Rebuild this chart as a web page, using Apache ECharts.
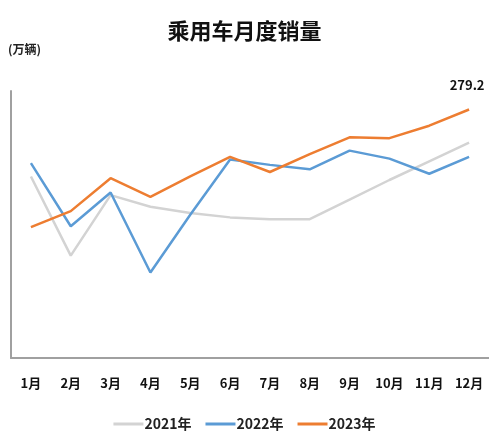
<!DOCTYPE html>
<html>
<head>
<meta charset="utf-8">
<script src="https://cdn.jsdelivr.net/npm/echarts@6/dist/echarts.min.js"></script>
<style>html,body{margin:0;padding:0;background:#fff;}#c{width:489px;height:439px;}</style>
</head>
<body>
<div id="c"></div>
<script>
const months = ['1月','2月','3月','4月','5月','6月','7月','8月','9月','10月','11月','12月'];
const seriesNames = ['2021年','2022年','2023年'];
const sales2021 = [204, 115, 183, 170, 163, 158, 156, 156, 178, 200, 221, 242];
const sales2022 = [219, 148, 186, 96, 161, 223, 217, 212, 233, 224, 207, 226];
const sales2023 = [147, 165, 202, 181, 204, 226, 209, 229, 248, 247, 261, 279.2];
const colors = ['#d3d3d3', '#5b9bd5', '#ed7d31'];

const chart = echarts.init(document.getElementById('c'), null, {renderer: 'canvas'});
const font = '"Noto Sans CJK SC", "Noto Sans", sans-serif';
const lastLabel = function (p) { return p.dataIndex === months.length - 1 ? String(p.value) : ''; };

chart.setOption({
  animation: false,
  backgroundColor: '#fff',
  title: {
    text: '乘用车月度销量',
    left: 'center', top: 15,
    textStyle: {fontFamily: font, fontSize: 22, fontWeight: 'bold', color: '#111'}
  },
  graphic: [{
    type: 'text', left: 8, top: 43,
    style: {text: '(万辆)', fontFamily: font, fontSize: 12, fontWeight: 'bold', fill: '#222'}
  }],
  legend: {
    bottom: 3, left: 'center',
    itemWidth: 30, itemHeight: 3, itemGap: 14,
    icon: 'rect',
    textStyle: {fontFamily: font, fontSize: 14, fontWeight: 'bold', color: '#222', padding: [0,0,0,-4]},
    data: seriesNames
  },
  grid: {left: 11, right: -2, top: 91, bottom: 81, containLabel: false},
  xAxis: {
    type: 'category', data: months, boundaryGap: true,
    axisLine: {show: true, lineStyle: {color: '#a0a0a0', width: 2}},
    axisTick: {show: false},
    axisLabel: {margin: 19, fontFamily: font, fontSize: 13, fontWeight: 'bold', color: '#111'}
  },
  yAxis: {
    type: 'value', min: 0, max: 300,
    axisLine: {show: true, lineStyle: {color: '#a0a0a0', width: 2}},
    axisTick: {show: false}, axisLabel: {show: false}, splitLine: {show: false}
  },
  series: [
    {name: seriesNames[0], type: 'line', data: sales2021, symbol: 'none', lineStyle: {width: 2.5, color: colors[0]}, itemStyle: {color: colors[0]}},
    {name: seriesNames[1], type: 'line', data: sales2022, symbol: 'none', lineStyle: {width: 2.5, color: colors[1]}, itemStyle: {color: colors[1]}},
    {name: seriesNames[2], type: 'line', data: sales2023, symbol: 'circle', symbolSize: 0.1, showSymbol: true,
      lineStyle: {width: 2.5, color: colors[2]}, itemStyle: {color: colors[2]},
      label: {show: true, position: 'top', distance: 18, offset: [-2, 0], formatter: lastLabel,
        fontFamily: font, fontSize: 13, fontWeight: 'bold', color: '#111'}}
  ]
});
</script>
</body>
</html>
